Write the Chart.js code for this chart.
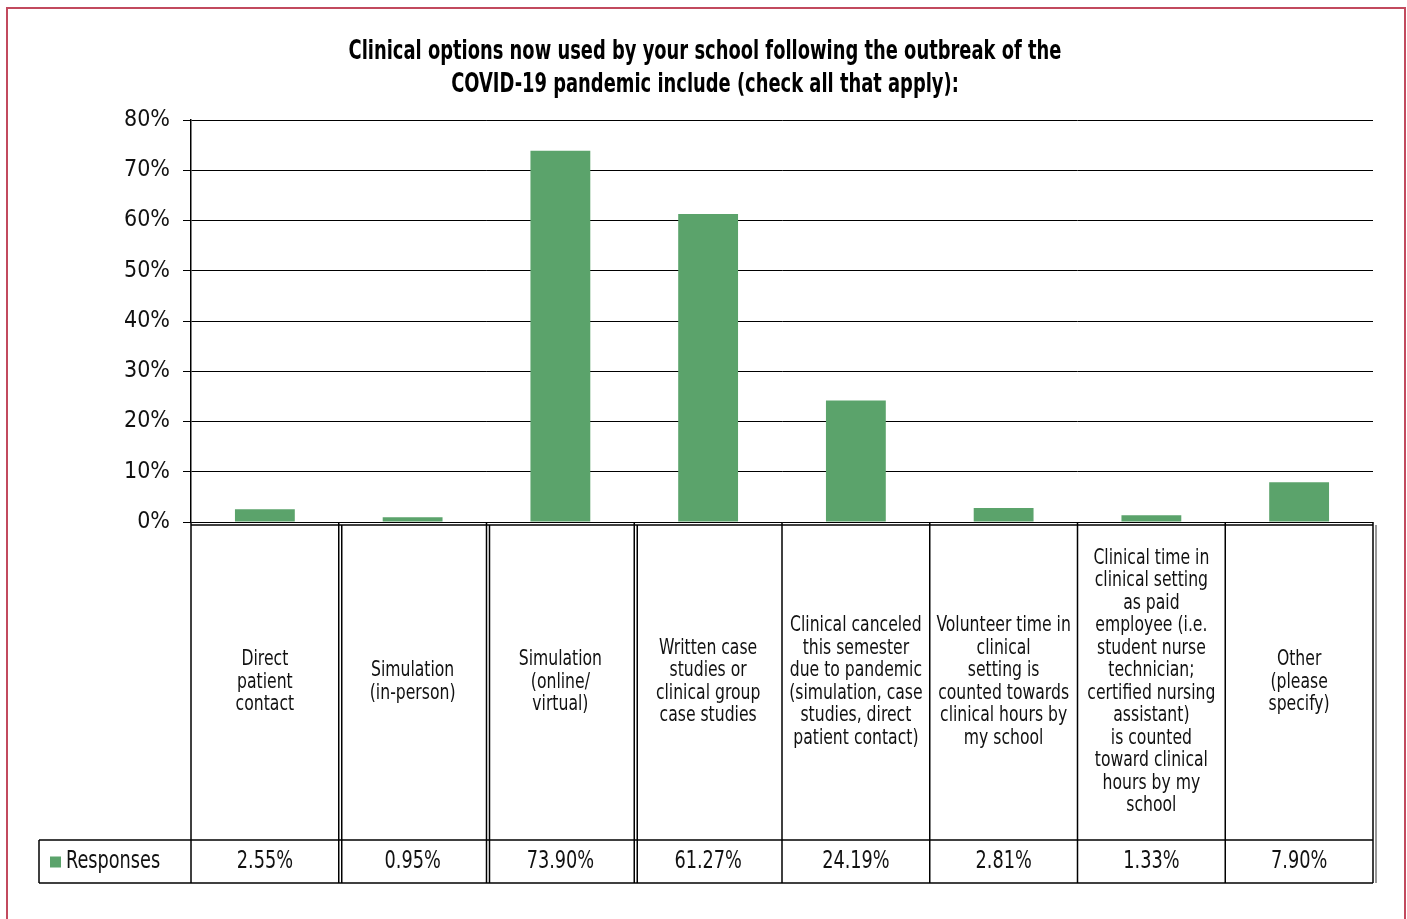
<!DOCTYPE html>
<html>
<head>
<meta charset="utf-8">
<script src="https://cdn.jsdelivr.net/npm/chart.js@4"></script>
<style>
  html, body { margin: 0; padding: 0; background: #fff; overflow: hidden; }
  #frame { position: absolute; left: 6px; top: 7px; width: 1396px; height: 1000px; border: 2px solid #c24a5e; }
  #myChart { position: absolute; left: 0; top: 0; }
</style>
</head>
<body>
<div id="frame"></div>
<canvas id="myChart" width="1407" height="919"></canvas>
<script>
// data
const categorias = [
    ['Direct', 'patient', 'contact'],
    ['Simulation', '(in-person)'],
    ['Simulation', '(online/', 'virtual)'],
    ['Written case', 'studies or', 'clinical group', 'case studies'],
    ['Clinical canceled', 'this semester', 'due to pandemic', '(simulation, case', 'studies, direct', 'patient contact)'],
    ['Volunteer time in', 'clinical', 'setting is', 'counted towards', 'clinical hours by', 'my school'],
    ['Clinical time in', 'clinical setting', 'as paid', 'employee (i.e.', 'student nurse', 'technician;', 'certified nursing', 'assistant)', 'is counted', 'toward clinical', 'hours by my', 'school'],
    ['Other', '(please', 'specify)']
];
const respuestas = [2.55, 0.95, 73.90, 61.27, 24.19, 2.81, 1.33, 7.90];
const etiquetaSerie = 'Responses';
const tituloLineas = ['Clinical options now used by your school following the outbreak of the',
                      'COVID-19 pandemic include (check all that apply):'];

const verde = '#5ba36b';
const fuente = "'DejaVu Sans Condensed', 'Liberation Sans Narrow', sans-serif";

// narrow text, the source uses a condensed face
function textoAngosto(ctx, t, x, y, escala) {
    ctx.save();
    ctx.translate(x, y);
    ctx.scale(escala, 1);
    ctx.fillText(t, 0, 0);
    ctx.restore();
}

const tituloPlugin = {
    id: 'tituloAngosto',
    afterDraw(chart) {
        const ctx = chart.ctx;
        ctx.save();
        ctx.fillStyle = '#000';
        ctx.font = 'bold 26px ' + fuente;
        ctx.textAlign = 'center';
        ctx.textBaseline = 'middle';
        tituloLineas.forEach((t, k) => textoAngosto(ctx, t, 705, 52 + k * 33, 0.765));
        ctx.restore();
    }
};

// table under the plot, built on the x scale
const tablaPlugin = {
    id: 'tablaDatos',
    afterDraw(chart) {
        const ctx = chart.ctx;
        const area = chart.chartArea;
        const x = chart.scales.x;
        const n = categorias.length;
        const paso = x.getPixelForValue(1) - x.getPixelForValue(0);
        const top = area.bottom;
        const filaTop = top + 318;
        const filaBottom = filaTop + 43;
        const izq = 39;

        ctx.save();
        ctx.strokeStyle = '#000';
        ctx.lineWidth = 1.5;

        function linea(x1, y1, x2, y2) {
            ctx.beginPath();
            ctx.moveTo(x1, y1);
            ctx.lineTo(x2, y2);
            ctx.stroke();
        }

        const bordes = [];
        for (let i = 0; i <= n; i++) {
            bordes.push(x.getPixelForValue(i) - paso / 2);
        }
        const l = bordes[0], r = bordes[n];

        linea(l, top + 3, r, top + 3);
        linea(izq, filaTop, r, filaTop);
        linea(izq, filaBottom, r, filaBottom);
        linea(izq, filaTop, izq, filaBottom);
        for (let i = 0; i <= n; i++) {
            linea(bordes[i], top, bordes[i], filaBottom);
            if (i > 0 && (i < 4 || i === n)) {
                ctx.strokeStyle = i === n ? '#777' : '#000';
                linea(bordes[i] + 3, top + 3, bordes[i] + 3, filaBottom);
                ctx.strokeStyle = '#000';
            }
        }

        // category texts
        ctx.fillStyle = '#111';
        ctx.font = '22px ' + fuente;
        ctx.textAlign = 'center';
        ctx.textBaseline = 'middle';
        const alto = 22.5;
        const centroY = (top + filaTop) / 2 + 1;
        categorias.forEach((lineas, i) => {
            const cx = (bordes[i] + bordes[i + 1]) / 2;
            const y0 = centroY - (lineas.length - 1) * alto / 2;
            lineas.forEach((t, k) => textoAngosto(ctx, t, cx, y0 + k * alto, 0.79));
        });

        // values row
        ctx.font = '24px ' + fuente;
        const filaY = (filaTop + filaBottom) / 2;
        respuestas.forEach((v, i) => {
            const cx = (bordes[i] + bordes[i + 1]) / 2;
            textoAngosto(ctx, v.toFixed(2) + '%', cx, filaY, 0.82);
        });

        // legend cell
        ctx.fillStyle = verde;
        ctx.fillRect(50, filaY - 5, 11, 11);
        ctx.fillStyle = '#111';
        ctx.textAlign = 'left';
        textoAngosto(ctx, etiquetaSerie, 66, filaY, 0.82);
        ctx.restore();
    }
};

const ctx = document.getElementById('myChart');
const miGrafico = new Chart(ctx, {
    type: 'bar',
    data: {
        labels: categorias.map(c => c.join(' ')),
        datasets: [{
            label: etiquetaSerie,
            data: respuestas,
            backgroundColor: verde,
            borderWidth: 0,
            barPercentage: 0.405,
            categoryPercentage: 1
        }]
    },
    options: {
        responsive: false,
        animation: false,
        layout: {
            padding: { top: 120, left: 0, right: 34, bottom: 397 }
        },
        plugins: {
            legend: { display: false },
            tooltip: { enabled: false },
            title: { display: false }
        },
        scales: {
            x: {
                display: false
            },
            y: {
                min: 0,
                max: 80,
                afterFit: function (scale) { scale.width = 191; },
                border: { color: '#000', width: 1.5 },
                grid: { color: '#000', lineWidth: 1, tickLength: 8 },
                ticks: {
                    stepSize: 10,
                    color: '#111',
                    padding: 13,
                    font: { family: fuente, size: 23 },
                    callback: function (v) { return v + '%'; }
                }
            }
        }
    },
    plugins: [tablaPlugin, tituloPlugin]
});
</script>
</body>
</html>
